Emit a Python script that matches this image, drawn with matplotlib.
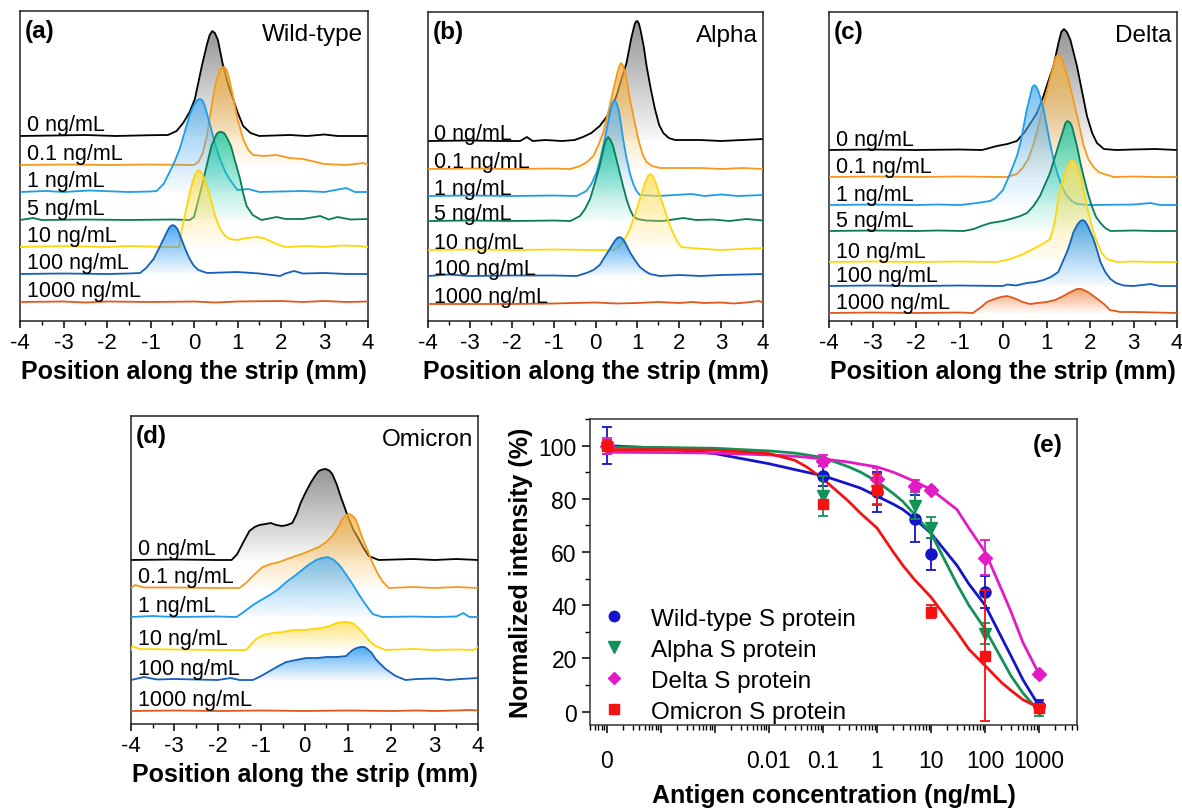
import numpy as np
import matplotlib
matplotlib.use("Agg")
import matplotlib.pyplot as plt
from matplotlib.patches import Polygon
from matplotlib.lines import Line2D
from matplotlib.colors import to_rgb
from matplotlib.ticker import MultipleLocator, FixedLocator, FixedFormatter, LogLocator, NullFormatter

plt.rcParams['font.family'] = ['Liberation Sans', 'DejaVu Sans']
plt.rcParams['axes.unicode_minus'] = False

# ---------------- strip profiles (position in mm, height in a.u.) ----------------
LABELS_7 = ['0 ng/mL', '0.1 ng/mL', '1 ng/mL', '5 ng/mL', '10 ng/mL', '100 ng/mL', '1000 ng/mL']
LABELS_6 = ['0 ng/mL', '0.1 ng/mL', '1 ng/mL', '10 ng/mL', '100 ng/mL', '1000 ng/mL']

# line colour, fill colour per concentration
STYLE = {
    '0 ng/mL': ('#000000', '#7a7a7a'),
    '0.1 ng/mL': ('#F39A1E', '#F7B03C'),
    '1 ng/mL': ('#1E9DE6', '#5AB2EE'),
    '5 ng/mL': ('#0B7A55', '#16C8A2'),
    '10 ng/mL': ('#FFD60A', '#FFDD55'),
    '100 ng/mL': ('#1560B8', '#2294F0'),
    '1000 ng/mL': ('#E0581C', '#F28A4E'),
}

# Wild-type
WT_OFFSET = [185, 156, 129, 101, 74, 47, 19]
WT_X = [
    [-4, -3.2, -2.5, -1.8, -1.0, -0.6, -0.4, -0.25, -0.1, 0.02, 0.18, 0.3, 0.36, 0.42, 0.48, 0.55, 0.66, 0.78, 0.9, 1.0, 1.13, 1.3, 1.5, 2.2, 2.6, 3.0, 3.3, 4],
    [-4, -3.0, -2.0, -1.0, 0.0, 0.1, 0.2, 0.3, 0.4, 0.5, 0.6, 0.64, 0.69, 0.75, 0.8, 0.9, 1.0, 1.13, 1.25, 1.36, 1.6, 1.9, 2.2, 2.5, 2.8, 3.0, 3.5, 3.9, 4],
    [-4, -3.4, -3.0, -2.4, -1.5, -1.0, -0.86, -0.7, -0.56, -0.45, -0.33, -0.2, -0.1, 0.0, 0.07, 0.14, 0.2, 0.25, 0.37, 0.5, 0.6, 0.72, 0.83, 1.0, 1.25, 1.5, 2.5, 3.0, 3.5, 3.7, 4],
    [-4, -3.7, -3.5, -2.5, -1.5, -0.5, -0.1, 0.0, 0.14, 0.29, 0.4, 0.52, 0.58, 0.64, 0.7, 0.75, 0.85, 0.95, 1.06, 1.14, 1.21, 1.35, 1.55, 1.9, 2.1, 2.5, 2.9, 3.1, 3.3, 3.6, 4],
    [-4, -3.0, -2.0, -1.5, -0.6, -0.34, -0.28, -0.13, -0.03, 0.05, 0.11, 0.16, 0.22, 0.36, 0.48, 0.6, 0.72, 0.83, 1.0, 1.2, 1.45, 1.6, 1.75, 1.9, 2.1, 2.6, 3.0, 3.4, 3.8, 4],
    [-4, -3.0, -2.0, -1.5, -1.24, -1.1, -0.93, -0.8, -0.7, -0.6, -0.55, -0.49, -0.44, -0.38, -0.29, -0.2, -0.1, 0.0, 0.1, 0.3, 1.0, 1.5, 1.98, 2.1, 2.3, 2.5, 3.0, 3.5, 4],
    [-4, -3.0, -2.5, -2.0, -1.0, 0.0, 0.5, 1.0, 2.0, 2.5, 3.0, 3.5, 4],
]
WT_H = [
    [0, 0.5, 1, 0, 0.8, 1, 5, 13, 24, 37, 70, 92, 101, 105, 103, 96, 72, 52, 37, 24, 10, 3, 0, 1, 0, 1.5, 0, 0],
    [0, 0.5, 0, 0.5, 0, 3, 12, 30, 58, 82, 95, 97.5, 98, 95, 88, 68, 46, 26, 15, 10, 9, 10, 7, 6, 3, 1, 0, 2, 0],
    [0, 1, 0, 1.5, 0, 0.5, 1, 8, 20, 30, 43, 62, 77, 87, 91.5, 93, 91, 86, 67, 46, 33, 20, 12, 2, 3, 0, 1, 0, 4, 0, 0],
    [0, 2, 0, 0.5, 0, 0.5, 0, 3, 27, 54, 74, 86, 88, 88, 86.5, 83, 74, 58, 41, 25, 14, 5, 0, 3, 1, 1, 4, 0.5, 3, 0.5, 1],
    [0, 1, 0, 1, 0, 0, 18, 48, 66, 75, 77, 75, 70, 52, 32, 18, 11, 8, 7, 9, 10, 9, 6, 3, 0, 1, 0, 1.5, 1, 0],
    [0, 0.5, 0, 0.5, 1, 6, 15, 26, 35, 44, 47.5, 49, 48, 45, 35, 25, 15, 8, 4, 1, 2, 0.5, -2, 0.5, 3, 0.5, 1, 0, 0],
    [0, 0.5, -0.5, 0.5, 0, 0.5, -0.5, 0.5, 1, 0, 1, 0, 0.5],
]

# Alpha
ALPHA_OFFSET = [180, 152, 125, 100, 71, 45, 17]
ALPHA_X = [
    [-4, -3.0, -2.3, -1.8, -1.64, -1.5, -1.2, -0.8, -0.5, -0.3, -0.1, 0.1, 0.3, 0.5, 0.62, 0.74, 0.85, 0.93, 0.965, 1.0, 1.04, 1.08, 1.15, 1.22, 1.32, 1.42, 1.52, 1.62, 1.75, 1.9, 2.5, 3.0, 3.5, 4],
    [-4, -3.0, -2.0, -1.0, -0.6, -0.37, -0.2, -0.05, 0.07, 0.19, 0.31, 0.43, 0.52, 0.57, 0.61, 0.66, 0.72, 0.82, 0.92, 1.02, 1.12, 1.22, 1.35, 1.54, 2.5, 3.0, 3.5, 4],
    [-4, -3.0, -2.0, -1.0, -0.45, -0.22, -0.1, 0.02, 0.12, 0.22, 0.34, 0.4, 0.45, 0.5, 0.56, 0.66, 0.74, 0.82, 0.9, 0.98, 1.06, 1.5, 2.3, 2.6, 3.0, 3.4, 4],
    [-4, -3.0, -2.0, -1.0, -0.6, -0.37, -0.25, -0.13, 0.0, 0.1, 0.2, 0.25, 0.3, 0.36, 0.42, 0.54, 0.64, 0.74, 0.82, 0.9, 1.0, 1.2, 1.6, 2.1, 2.4, 2.8, 3.2, 3.6, 4],
    [-4, -3.0, -2.0, -1.0, 0.0, 0.43, 0.58, 0.7, 0.82, 0.94, 1.06, 1.18, 1.25, 1.31, 1.37, 1.44, 1.57, 1.69, 1.81, 1.93, 2.05, 2.3, 2.6, 3.0, 3.5, 4],
    [-4, -3.5, -3.0, -2.0, -1.0, -0.45, -0.22, -0.05, 0.1, 0.22, 0.34, 0.46, 0.52, 0.58, 0.64, 0.7, 0.82, 0.94, 1.06, 1.18, 1.3, 1.54, 2.0, 2.5, 3.0, 3.5, 4],
    [-4, -3, -2, -1, 0, 0.5, 1, 1.5, 2, 2.3, 2.6, 3, 3.3, 3.6, 3.9, 4],
]
ALPHA_H = [
    [0, 0.5, 0, 0, 4, 0, 1, 0, 1, 4, 8, 15, 26, 45, 62, 78, 102, 116, 119.5, 120, 117, 110, 95, 75, 52, 32, 16, 8, 3, 1, 1, 0, 1, 2],
    [0, 0.5, 0, 0.5, 0, 3, 7, 13, 24, 37, 58, 80, 96, 103, 106, 103, 95, 70, 50, 30, 15, 7, 3, 1, 1, 0, 1, 0],
    [0, 0.5, 0, 0.5, 0, 5, 12, 23, 38, 57, 82, 93, 96, 93, 85, 57, 38, 23, 12, 5, 1, 0, 2, 0, 1.5, 0, 1],
    [0, 0.5, 0, 0.5, 0, 5, 12, 22, 40, 55, 74, 81, 84, 81, 75, 55, 38, 22, 12, 5, 2, 0.5, 0, 3, 1, 1.5, 0, 2, 0.5],
    [0, 0.5, 0, 0.5, 0, 0, 4, 11, 21, 35, 51, 67, 74, 76, 74, 67, 51, 35, 21, 10, 3, 2, 1, 0, 1, 2],
    [0, 1.5, 0, 0.5, 0.5, 0, 3, 6, 11, 19, 27, 35, 38, 39, 37.5, 34, 24, 16, 9, 5, 2, 0, 1, 0, 1, 1.5, 2],
    [0, 0, 0, 0.5, 1.5, 0.5, 1, 2, 1, 2, 1, 1.5, 0.5, 1.5, 3, 1.5],
]

# Delta
DELTA_OFFSET = [171, 144, 116, 90, 59, 35, 8]
DELTA_X = [
    [-4, -3.0, -2.0, -1.0, -0.48, -0.14, 0.1, 0.32, 0.5, 0.65, 0.78, 0.93, 1.05, 1.16, 1.28, 1.34, 1.4, 1.47, 1.55, 1.7, 1.82, 1.93, 2.05, 2.16, 2.32, 2.6, 3.0, 3.5, 4],
    [-4, -3.0, -2.0, -1.0, 0.0, 0.09, 0.32, 0.45, 0.58, 0.68, 0.78, 0.93, 1.08, 1.18, 1.22, 1.27, 1.33, 1.38, 1.5, 1.6, 1.7, 1.85, 1.96, 2.08, 2.2, 2.32, 2.55, 3.0, 3.5, 4],
    [-4, -3.0, -2.0, -1.5, -0.98, -0.6, -0.3, -0.17, 0.0, 0.14, 0.24, 0.32, 0.4, 0.48, 0.55, 0.63, 0.67, 0.72, 0.77, 0.82, 0.93, 1.08, 1.18, 1.27, 1.37, 1.47, 1.58, 1.7, 2.0, 3.0, 3.4, 3.6, 4],
    [-4, -3.0, -2.0, -1.5, -0.9, -0.67, -0.5, -0.29, 0.0, 0.17, 0.4, 0.55, 0.7, 0.85, 0.96, 1.08, 1.18, 1.27, 1.38, 1.43, 1.48, 1.54, 1.59, 1.7, 1.78, 1.85, 1.95, 2.04, 2.14, 2.24, 2.35, 2.47, 3.0, 3.5, 4],
    [-4, -3.0, -2.0, -1.0, -0.14, 0.17, 0.47, 0.78, 0.95, 1.08, 1.15, 1.2, 1.27, 1.33, 1.39, 1.49, 1.54, 1.59, 1.65, 1.7, 1.8, 1.88, 1.96, 2.06, 2.16, 2.27, 2.39, 2.62, 3.0, 3.5, 4],
    [-4, -3.0, -2.0, -1.0, 0.0, 0.1, 0.3, 0.55, 0.75, 0.93, 1.1, 1.27, 1.37, 1.47, 1.55, 1.62, 1.72, 1.78, 1.83, 1.89, 1.95, 2.08, 2.16, 2.24, 2.35, 2.47, 2.6, 2.77, 3.0, 3.4, 3.6, 4],
    [-4, -3.0, -2.0, -1.0, -0.69, -0.5, -0.37, -0.2, -0.05, 0.09, 0.25, 0.45, 0.62, 0.8, 1.0, 1.2, 1.39, 1.55, 1.7, 1.8, 1.95, 2.08, 2.2, 2.32, 2.46, 2.7, 3.0, 3.5, 4],
]
DELTA_H = [
    [0, 0.5, 0, 0.5, 0, 4, 6, 9, 18, 28, 37, 54, 70, 84, 108, 118, 121, 118, 110, 84, 58, 34, 17, 7, 1, 0, 0.5, 1, 0],
    [0, 0.5, 0, 0.5, 0, 0, 3, 9, 18, 30, 45, 72, 98, 115, 120.5, 122, 120, 115, 98, 80, 62, 32, 18, 10, 5, 3, 0, 0.5, 0, 0],
    [0, 0.5, 0, 0.5, 0, 2, 4, 7, 15, 29, 40, 49, 62, 80, 96, 110, 117.5, 120, 118, 113, 96, 62, 42, 29, 17, 9, 4, 1, 0, 0.5, 2, 0, 0],
    [0, 0.5, 0, 0.5, 0, 2, 5, 8, 10, 12, 15, 18, 25, 35, 46, 58, 72, 85, 100, 107.5, 110, 108.5, 104, 85, 68, 55, 38, 25, 14, 8, 3, 0, 0.5, 0, 0],
    [0, 0.5, 0, 0.5, 0, 3, 8, 15, 19, 23, 33, 43, 63, 76, 83, 96, 100.5, 102, 100, 96, 83, 67, 50, 33, 20, 9, 3, 0, 0.5, 0, 0],
    [0, 0.5, 0, 0.5, 0, 1.5, 0.5, 3, 4, 6, 9, 14, 24, 34, 44, 54, 62, 65, 66, 64.5, 60, 47, 36, 24, 14, 7, 3, 0.5, 0, 2, 0, 0],
    [0, 0.5, 0, 0.5, 0, 6, 11, 14, 16, 17, 15, 11, 9, 10, 11, 13, 17, 21, 24, 24, 21, 17, 13, 9, 3, 1, 1, 0.5, 0],
]

# Omicron
OMI_OFFSET = [164, 136, 107, 74, 44, 13]
OMI_X = [
    [-4, -3.0, -2.0, -1.68, -1.55, -1.42, -1.27, -1.15, -1.04, -0.9, -0.78, -0.65, -0.51, -0.4, -0.28, -0.18, -0.09, 0.03, 0.14, 0.24, 0.33, 0.41, 0.49, 0.57, 0.64, 0.74, 0.83, 0.93, 1.02, 1.13, 1.25, 1.36, 1.48, 1.71, 2.5, 3.0, 3.5, 4],
    [-4, -3.9, -3.7, -3.0, -2.0, -1.5, -1.35, -1.19, -0.97, -0.78, -0.58, -0.4, -0.2, 0.0, 0.11, 0.33, 0.5, 0.64, 0.76, 0.87, 0.96, 1.04, 1.11, 1.18, 1.27, 1.37, 1.47, 1.56, 1.68, 1.79, 1.94, 2.5, 3.0, 3.5, 4],
    [-4, -3.5, -3.0, -2.0, -1.57, -1.4, -1.19, -1.0, -0.8, -0.6, -0.42, -0.2, -0.03, 0.12, 0.27, 0.4, 0.54, 0.68, 0.8, 0.92, 1.03, 1.15, 1.26, 1.4, 1.57, 1.79, 2.5, 3.0, 3.5, 3.66, 3.8, 4],
    [-4, -3.97, -3.8, -3.0, -2.0, -1.35, -1.2, -1.12, -0.95, -0.74, -0.5, -0.28, 0.0, 0.18, 0.4, 0.57, 0.75, 0.87, 1.0, 1.1, 1.25, 1.41, 1.52, 1.64, 1.87, 2.5, 3.0, 3.5, 3.9, 4],
    [-4, -3.7, -3.4, -3.0, -2.0, -1.7, -1.5, -1.19, -1.0, -0.8, -0.6, -0.42, -0.2, 0.04, 0.3, 0.5, 0.75, 0.96, 1.03, 1.11, 1.2, 1.3, 1.38, 1.45, 1.55, 1.64, 1.75, 1.87, 2.0, 2.1, 2.33, 2.6, 3.0, 3.3, 3.6, 4],
    [-4, -3.0, -2.0, -1.0, 0.0, 1.0, 2.0, 2.6, 3.0, 3.5, 3.8, 4],
]
OMI_H = [
    [0, 0.5, 0, 0, 6, 17, 29, 33, 35, 36, 37, 35, 34, 35, 37, 46, 57, 68, 77, 84, 89, 90.5, 91, 89.5, 86, 76, 64, 52, 41, 30, 21, 12, 4, 0, 1, 0, 1, 0],
    [0, 3, 0.5, 0.5, 0, 0, 5, 12, 21, 24, 26, 29, 32, 35, 37, 41, 46, 52, 60, 69, 73, 74, 72, 69, 58, 46, 36, 26, 15, 7, 0, 1, 0, 1, 0],
    [0, 1, 0, 0.5, 0, 5, 12, 17, 22, 28, 35, 42, 48, 53, 57, 59, 60, 57, 52, 45, 38, 30, 22, 13, 3, 0, 0.5, 0, 0.5, 4, 0, 0],
    [0, 4, 1, 0.5, 0, 0, 7, 11, 15, 17, 18, 20, 20, 21, 22, 24, 27, 28, 28, 27, 22, 14, 8, 4, 0, 1, 0, 0.5, 0, 3],
    [0, 3, 0.5, 1, 0, 2, 0, 0, 4, 9, 14, 18, 20, 22, 22, 23, 23, 24, 27, 30, 32, 33, 33, 31, 27, 21, 16, 11, 7, 4, 0, 1, 1.5, 0, 1, 2],
    [0, 0.5, 0, 0.5, 0, 0.5, 0, 0.5, 0, 0.5, 1, 0.5],
]

# ---------------- dose response (panel e) ----------------
CONC = [0, 0.1, 1, 5, 10, 100, 1000]
ZERO_AT = 1e-5          # where "0" sits on the log axis
WT_MEAN = [100, 88.7, 82.5, 72.6, 59.4, 45.1, 2.3]
WT_ERR = [7, 3.7, 7.5, 9, 6, 6, 2]
ALPHA_MEAN = [99, 81.2, 83, 77.4, 69.1, 29.3, 0.5]
ALPHA_ERR = [2, 7.5, 5, 5, 4, 4, 2]
DELTA_MEAN = [100, 94.4, 87.6, 85, 83.5, 57.9, 14]
DELTA_ERR = [3, 2, 4, 2, 1, 6.5, 1]
OMI_MEAN = [100, 78.2, 83.5, np.nan, 37.6, 21.1, 1.5]
OMI_ERR = [2, 0, 6, np.nan, 2.5, 24.5, 1]

FIT_X = [1e-5, 1e-4, 1e-3, 0.01, 0.03, 0.05, 0.1, 0.3, 0.5, 1, 2, 3, 5, 10, 30, 50, 100, 200, 300, 500, 1000]
WT_FIT = [100, 99, 97, 93.2, 91, 90, 88.7, 85.5, 84, 81, 78, 76, 72.5, 67, 55, 48, 40, 28, 21, 12, 2]
ALPHA_FIT = [99.5, 99.3, 99, 98, 97.2, 96.5, 95.5, 92, 90, 86.5, 82, 79, 74, 67, 48, 40, 31, 20, 13.5, 7, 0]
DELTA_FIT = [97.5, 97.4, 97.2, 96.5, 96, 95.6, 95, 93.8, 93, 92, 90, 88.5, 86.5, 83.5, 76, 69, 60, 46, 37.6, 26, 14]
OMI_FIT = [98.5, 98.5, 98.3, 97, 94.5, 92, 87.5, 79, 74.5, 69, 60, 55, 49.5, 43, 30, 23.5, 17.3, 11, 8, 4.5, 1.5]

W, H = 1182, 812


def place(fig, left, top, right, bottom):
    return fig.add_axes([left / W, 1 - bottom / H, (right - left) / W, (bottom - top) / H])


def ridge(ax, xs, hs, base, line_c, fill_c, z):
    xs = np.asarray(xs, float)
    ys = base + np.asarray(hs, float)
    verts = np.column_stack([np.r_[xs[0], xs, xs[-1]], np.r_[base, ys, base]])
    poly = Polygon(verts, closed=True, facecolor='none', edgecolor='none', zorder=z)
    ax.add_patch(poly)
    top = ys.max()
    if top - base > 4:
        rgba = np.zeros((256, 1, 4))
        rgba[..., :3] = to_rgb(fill_c)
        rgba[..., 3] = np.linspace(0.04, 0.8, 256)[:, None]
        im = ax.imshow(rgba, extent=[xs[0], xs[-1], base, top], origin='lower',
                       aspect='auto', interpolation='bilinear', zorder=z)
        im.set_clip_path(poly)
    ax.plot(xs, ys, color=line_c, lw=1.3, zorder=z + 0.5, solid_joinstyle='round')


def profile_panel(ax, xs_list, hs_list, offsets, labels, height, label_dy, letter, name):
    for i, (xs, hs, base, lab) in enumerate(zip(xs_list, hs_list, offsets, labels)):
        line_c, fill_c = STYLE[lab]
        ridge(ax, xs, hs, base, line_c, fill_c, 2 + 2 * i)
        ax.text(-3.85, base + label_dy, lab, fontsize=15.5, va='baseline', zorder=40)
    ax.set_xlim(-4, 4)
    ax.set_ylim(0, height)
    ax.xaxis.set_major_locator(MultipleLocator(1))
    ax.xaxis.set_minor_locator(MultipleLocator(0.5))
    ax.set_yticks([])
    ax.tick_params(axis='x', which='major', direction='out', length=5, width=1.1, labelsize=16, pad=3)
    ax.tick_params(axis='x', which='minor', direction='out', length=3, width=1.0)
    for s in ax.spines.values():
        s.set_linewidth(1.1)
        s.set_color('#222222')
    ax.set_xlabel('Position along the strip (mm)', fontsize=18, fontweight='bold', labelpad=4)
    ax.text(0.014, 0.975, letter, transform=ax.transAxes, fontsize=17.5, fontweight='bold',
            va='top', ha='left', zorder=50)
    ax.text(0.985, 0.96, name, transform=ax.transAxes, fontsize=17.5, va='top', ha='right', zorder=50)


fig = plt.figure(figsize=(W / 100, H / 100), dpi=100)

ax_a = place(fig, 20, 12, 368, 322)
profile_panel(ax_a, WT_X, WT_H, WT_OFFSET, LABELS_7, 310, 6, '(a)', 'Wild-type')

ax_b = place(fig, 428, 13, 763, 322)
profile_panel(ax_b, ALPHA_X, ALPHA_H, ALPHA_OFFSET, LABELS_7, 309, 2, '(b)', 'Alpha')

ax_c = place(fig, 829, 13, 1177, 322)
profile_panel(ax_c, DELTA_X, DELTA_H, DELTA_OFFSET, LABELS_7, 309, 5, '(c)', 'Delta')

ax_d = place(fig, 131, 417, 478, 725)
profile_panel(ax_d, OMI_X, OMI_H, OMI_OFFSET, LABELS_6, 308, 6, '(d)', 'Omicron')

# ---------------- panel (e) ----------------
ax_e = place(fig, 590, 420, 1077, 726)
ax_e.set_xscale('log')

series = [
    ('Wild-type S protein', WT_MEAN, WT_ERR, WT_FIT, '#1414C8', 'o', 8),
    ('Alpha S protein', ALPHA_MEAN, ALPHA_ERR, ALPHA_FIT, '#139257', 'v', 8.5),
    ('Delta S protein', DELTA_MEAN, DELTA_ERR, DELTA_FIT, '#E21CC4', 'D', 7),
    ('Omicron S protein', OMI_MEAN, OMI_ERR, OMI_FIT, '#F41212', 's', 7.5),
]
xpos = np.array([ZERO_AT if c == 0 else c for c in CONC], float)
handles = []
for i, (lab, mean, err, fit, col, mk, ms) in enumerate(series):
    ax_e.plot(FIT_X, fit, color=col, lw=2.0, zorder=3 + i)
    ax_e.errorbar(xpos, mean, yerr=err, fmt=mk, color=col, ms=ms, elinewidth=1.3,
                  capsize=3.5, capthick=1.3, zorder=8 + i)
    handles.append(Line2D([], [], linestyle='none', marker=mk, color=col, ms=ms - 0.5, label=lab))

ax_e.set_xlim(4.9e-6, 5000)
ax_e.set_ylim(-5, 110)
major = [1e-5, 1e-4, 1e-3, 1e-2, 1e-1, 1, 10, 100, 1000]
ax_e.xaxis.set_major_locator(FixedLocator(major))
ax_e.xaxis.set_major_formatter(FixedFormatter(['0', '', '', '0.01', '0.1', '1', '10', '100', '1000']))
ax_e.xaxis.set_minor_locator(LogLocator(base=10, subs=np.arange(2, 10), numticks=30))
ax_e.xaxis.set_minor_formatter(NullFormatter())
ax_e.yaxis.set_major_locator(MultipleLocator(20))
ax_e.yaxis.set_minor_locator(MultipleLocator(10))
ax_e.tick_params(which='major', direction='out', length=6, width=1.1, labelsize=16.5)
ax_e.tick_params(which='minor', direction='out', length=3.5, width=1.0)
ax_e.tick_params(axis='x', which='major', pad=11)
for s in ax_e.spines.values():
    s.set_linewidth(1.1)
    s.set_color('#333333')
ax_e.set_xlabel('Antigen concentration (ng/mL)', fontsize=18, fontweight='bold', labelpad=8)
ax_e.set_ylabel('Normalized intensity (%)', fontsize=18, fontweight='bold', labelpad=4)
ax_e.text(0.97, 0.955, '(e)', transform=ax_e.transAxes, fontsize=17.5, fontweight='bold',
          ha='right', va='top')
ax_e.legend(handles=handles, loc='lower left', bbox_to_anchor=(0.02, 0.0), frameon=False,
            fontsize=17.5, handlelength=1.0, handletextpad=1.0, labelspacing=0.37,
            borderpad=0.1, borderaxespad=0.0)

fig.savefig('out.png', dpi=100)
